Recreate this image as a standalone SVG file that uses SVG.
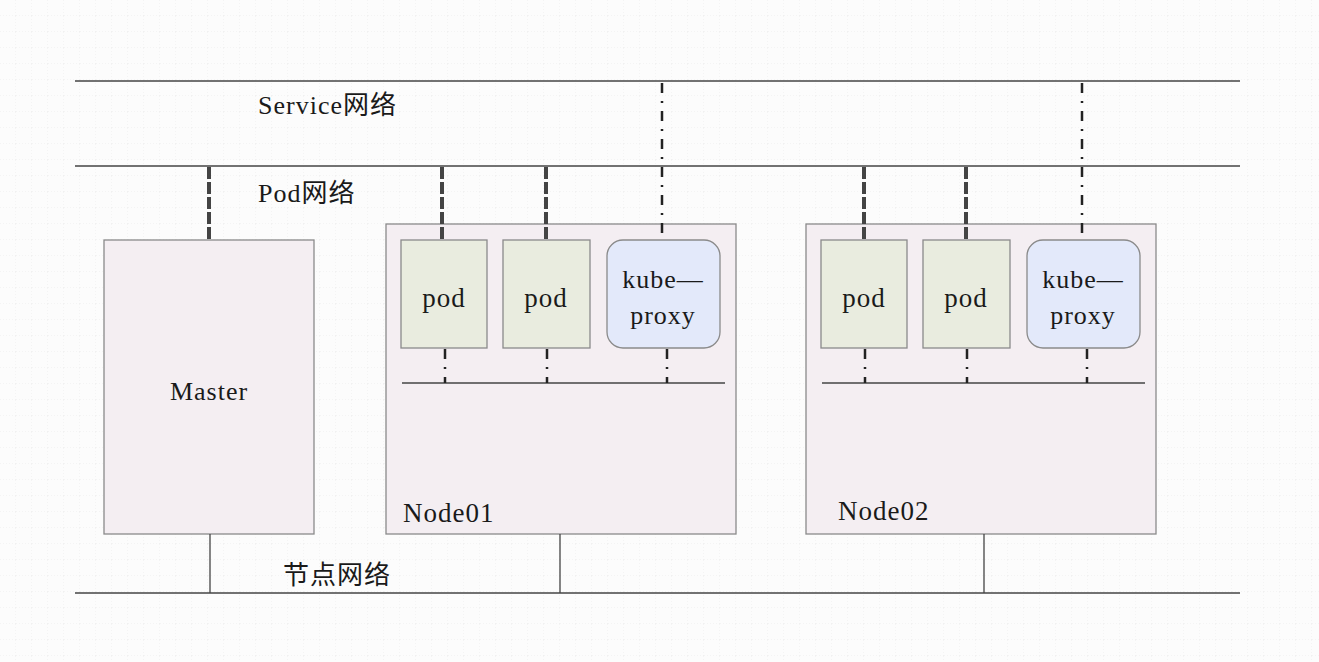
<svg xmlns="http://www.w3.org/2000/svg" width="1319" height="662" viewBox="0 0 1319 662">
<defs>
<pattern id="grid" width="16" height="16" patternUnits="userSpaceOnUse">
<path d="M16 0V16M0 16H16" fill="none" stroke="#ededed" stroke-width="1" stroke-dasharray="1 2"/>
</pattern>
</defs>
<style>
.bg{fill:#fcfcfc}
.net{stroke:#444;stroke-width:1.6;fill:none}
.box{fill:#f4eef2;stroke:#8a8a8a;stroke-width:1.3}
.pod{fill:#e9ecdf;stroke:#8a8a8a;stroke-width:1.3}
.kp{fill:#e3e9fa;stroke:#8a8a8a;stroke-width:1.3}
.thick{stroke:#444;stroke-width:4;stroke-dasharray:12 3;fill:none}
.dd{stroke:#222;stroke-width:2.5;stroke-dasharray:10 8 2 8;fill:none}
.solid{stroke:#444;stroke-width:1.3;fill:none}
text{font-family:"Liberation Serif","Noto Sans CJK SC",serif;font-size:26px;letter-spacing:1px;fill:#1a1a1a}
.cjk{font-family:"Noto Sans CJK SC","Liberation Serif",sans-serif;font-size:26px;letter-spacing:1px}
</style>
<rect class="bg" width="1319" height="662"/>
<rect width="1319" height="662" fill="url(#grid)"/>
<g id="networks">
<line class="net" x1="75" y1="81" x2="1240" y2="81"/>
<line class="net" x1="75" y1="166" x2="1240" y2="166"/>
<line class="net" x1="75" y1="593" x2="1240" y2="593"/>
<text x="258" y="114">Service<tspan class="cjk">网络</tspan></text>
<text x="258" y="202">Pod<tspan class="cjk">网络</tspan></text>
<text class="cjk" x="283" y="584">节点网络</text>
</g>
<g id="master">
<rect class="box" x="104" y="240" width="210" height="294"/>
<text x="209" y="400" text-anchor="middle">Master</text>
</g>
<g id="node01">
<rect class="box" x="386" y="224" width="350" height="310"/>
<text x="403" y="522" style="font-size:27px">Node01</text>
<line class="net" x1="402" y1="383" x2="725" y2="383"/>
</g>
<g id="node01-pod1">
<rect class="pod" x="401" y="240" width="86" height="108"/>
<text x="444" y="307" text-anchor="middle" style="font-size:27px">pod</text>
</g>
<g id="node01-pod2">
<rect class="pod" x="503" y="240" width="87" height="108"/>
<text x="546" y="307" text-anchor="middle" style="font-size:27px">pod</text>
</g>
<g id="node01-kube-proxy">
<rect class="kp" x="607" y="240" width="113" height="108" rx="16"/>
<text x="663" y="288" text-anchor="middle">kube—</text>
<text x="663" y="324" text-anchor="middle">proxy</text>
</g>
<g id="node02">
<rect class="box" x="806" y="224" width="350" height="310"/>
<text x="838" y="520" style="font-size:27px">Node02</text>
<line class="net" x1="822" y1="383" x2="1145" y2="383"/>
</g>
<g id="node02-pod1">
<rect class="pod" x="821" y="240" width="86" height="108"/>
<text x="864" y="307" text-anchor="middle" style="font-size:27px">pod</text>
</g>
<g id="node02-pod2">
<rect class="pod" x="923" y="240" width="87" height="108"/>
<text x="966" y="307" text-anchor="middle" style="font-size:27px">pod</text>
</g>
<g id="node02-kube-proxy">
<rect class="kp" x="1027" y="240" width="113" height="108" rx="16"/>
<text x="1083" y="288" text-anchor="middle">kube—</text>
<text x="1083" y="324" text-anchor="middle">proxy</text>
</g>
<g id="connectors">
<line class="thick" x1="209" y1="167" x2="209" y2="240"/>
<line class="thick" x1="442" y1="167" x2="442" y2="240"/>
<line class="thick" x1="546" y1="167" x2="546" y2="240"/>
<line class="thick" x1="864" y1="167" x2="864" y2="240"/>
<line class="thick" x1="966" y1="167" x2="966" y2="240"/>
<line class="dd" x1="662" y1="83" x2="662" y2="240"/>
<line class="dd" x1="1082" y1="83" x2="1082" y2="240"/>
<line class="dd" x1="445" y1="349" x2="445" y2="383"/>
<line class="dd" x1="547" y1="349" x2="547" y2="383"/>
<line class="dd" x1="667" y1="349" x2="667" y2="383"/>
<line class="dd" x1="865" y1="349" x2="865" y2="383"/>
<line class="dd" x1="967" y1="349" x2="967" y2="383"/>
<line class="dd" x1="1087" y1="349" x2="1087" y2="383"/>
<line class="solid" x1="210" y1="534" x2="210" y2="593"/>
<line class="solid" x1="560" y1="534" x2="560" y2="593"/>
<line class="solid" x1="984" y1="534" x2="984" y2="593"/>
</g>
</svg>
